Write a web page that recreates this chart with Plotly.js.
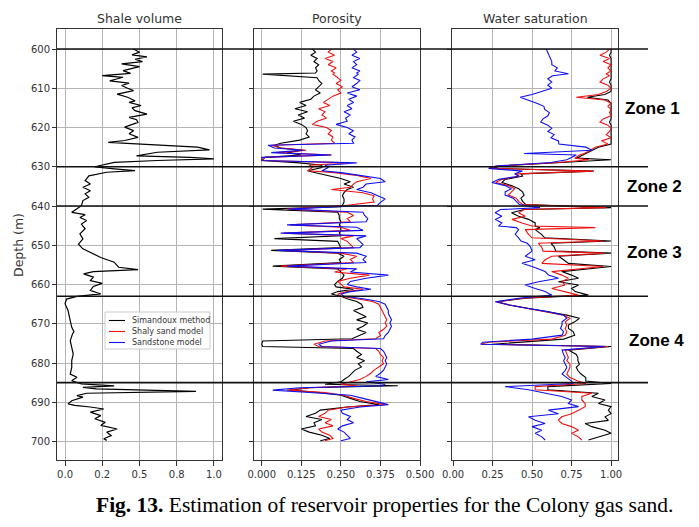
<!DOCTYPE html>
<html><head><meta charset="utf-8">
<script src="https://cdn.plot.ly/plotly-3.0.1.min.js"></script>
<style>html,body{margin:0;padding:0;background:#fff;}#chart{width:699px;height:527px;}</style>
</head><body><div id="chart"></div>
<script>
// ---------- DATA ----------
const shaleDepth = [600.0,600.8,601.5,602.0,602.6,603.2,603.8,604.5,605.5,606.2,606.8,607.2,607.7,608.1,608.7,609.3,610.0,610.6,611.5,612.3,613.2,613.6,614.4,615.0,615.7,616.2,616.6,617.4,618.0,618.7,619.3,619.9,620.8,621.6,622.5,623.3,623.8,624.2,625.0,625.7,626.3,627.2,627.6,628.0,628.4,628.9,630.0,630.6,631.0,631.4,632.3,633.5,634.4,635.2,636.1,636.9,637.8,638.6,639.9,640.7,641.6,642.2,642.9,643.7,644.6,645.8,647.1,648.4,649.7,650.9,651.8,653.1,654.3,655.6,656.2,656.7,657.3,658.1,659.0,659.7,660.5,661.5,662.4,663.0,663.7,664.9,666.6,668.0,669.2,670.9,672.0,672.6,674.3,676.0,677.7,679.4,681.1,682.8,683.6,684.5,685.3,685.8,686.2,686.6,687.2,687.7,688.3,688.7,689.6,690.4,690.8,691.2,691.7,692.5,693.4,694.2,695.1,695.9,696.8,697.6,698.5,699.3,699.7];
const shaleVolume = [0.46,0.50,0.45,0.55,0.47,0.52,0.38,0.50,0.39,0.44,0.25,0.39,0.34,0.30,0.43,0.38,0.42,0.46,0.35,0.42,0.47,0.43,0.51,0.45,0.47,0.52,0.55,0.43,0.48,0.49,0.44,0.40,0.46,0.43,0.49,0.40,0.29,0.51,0.89,0.97,0.62,0.48,0.84,1.0,0.62,0.33,0.20,0.35,0.47,0.28,0.16,0.135,0.17,0.12,0.17,0.135,0.16,0.12,0.11,0.08,0.045,0.135,0.10,0.145,0.11,0.135,0.10,0.12,0.09,0.12,0.17,0.24,0.33,0.36,0.49,0.19,0.125,0.19,0.17,0.25,0.19,0.17,0.24,0.08,0.01,0.0,0.02,0.03,0.035,0.045,0.06,0.05,0.035,0.045,0.055,0.045,0.045,0.035,0.08,0.045,0.11,0.33,0.12,0.21,0.88,0.145,0.08,0.12,0.045,0.02,0.065,0.17,0.26,0.17,0.24,0.20,0.27,0.24,0.35,0.28,0.31,0.26,0.28];

const phiDepth = [600.0,600.8,601.6,602.4,603.2,604.0,604.8,605.6,606.1,606.4,607.3,608.0,608.8,609.6,610.4,611.2,612.0,612.8,613.6,614.4,615.2,616.0,616.8,617.6,618.4,619.2,620.0,620.8,621.6,622.4,623.2,624.0,624.5,625.2,625.8,626.4,627.0,627.6,628.4,629.0,629.6,630.2,631.0,631.5,632.2,633.0,633.8,634.4,635.2,635.8,636.6,637.4,638.2,639.0,639.8,640.2,640.8,641.6,642.4,643.2,644.0,644.8,645.4,646.2,646.9,647.6,648.3,649.0,649.8,650.6,651.3,652.0,652.8,653.6,654.4,655.3,656.0,656.8,657.6,658.4,659.2,660.0,660.6,661.2,661.8,662.4,663.0,663.6,664.3,665.0,665.8,666.6,667.4,668.2,669.0,669.8,670.6,671.4,672.2,673.0,673.8,674.4,675.2,675.8,676.3,677.0,677.8,678.6,679.4,680.2,681.0,681.8,682.6,683.4,684.2,684.8,685.4,685.8,686.3,686.9,687.5,688.2,689.0,689.8,690.6,691.2,692.0,692.8,693.6,694.4,695.2,696.0,696.8,697.6,698.4,699.2,699.8];
const phiSimandoux = [.16,.17,.155,.175,.165,.18,.17,.175,.17,.003,.175,.18,.19,.18,.17,.185,.165,.155,.12,.14,.105,.145,.115,.135,.10,.125,.14,.145,.14,.15,.12,.06,.04,.06,.13,.08,.125,.01,.0,.12,.19,.19,.145,.17,.21,.25,.28,.26,.29,.27,.26,.255,.26,.26,.255,.25,.003,.24,.245,.245,.25,.245,.25,.25,.245,.25,.04,.24,.245,.25,.03,.24,.26,.245,.25,.035,.24,.25,.26,.255,.24,.23,.235,.29,.24,.22,.25,.27,.30,.315,.32,.29,.31,.33,.30,.335,.32,.30,.33,.31,.285,.003,.0,.003,.29,.30,.315,.30,.325,.305,.315,.295,.285,.275,.26,.25,.20,.43,.15,.09,.18,.25,.28,.31,.37,.27,.185,.17,.14,.19,.165,.17,.125,.15,.19,.215,.185];
const phiShalySand = [.22,.21,.23,.20,.225,.21,.235,.22,.23,.225,.24,.25,.235,.255,.24,.25,.225,.21,.195,.215,.18,.20,.19,.205,.175,.16,.205,.22,.21,.225,.22,.23,.03,.06,.14,.05,.22,.01,.0,.28,.15,.16,.145,.23,.30,.345,.30,.29,.28,.22,.32,.355,.35,.355,.27,.20,.08,.27,.29,.27,.28,.09,.25,.28,.07,.29,.25,.27,.28,.29,.07,.25,.30,.28,.29,.06,.27,.23,.34,.28,.24,.25,.26,.32,.27,.24,.25,.30,.35,.37,.375,.38,.385,.39,.395,.39,.395,.385,.37,.375,.36,.20,.165,.18,.36,.37,.375,.385,.38,.385,.37,.355,.345,.33,.31,.28,.25,.30,.15,.08,.20,.26,.29,.33,.39,.27,.21,.20,.18,.22,.20,.225,.18,.19,.215,.225,.20];
const phiSandstone = [.29,.30,.285,.31,.29,.30,.285,.31,.30,.305,.29,.31,.30,.285,.31,.27,.30,.275,.29,.27,.285,.26,.28,.265,.27,.235,.27,.29,.275,.295,.285,.29,.02,.04,.13,.03,.22,.0,.0,.30,.20,.21,.19,.25,.31,.375,.39,.33,.32,.30,.345,.366,.39,.376,.366,.24,.085,.32,.325,.335,.33,.08,.30,.32,.06,.33,.30,.31,.32,.31,.05,.30,.33,.32,.33,.08,.30,.28,.40,.33,.28,.27,.30,.345,.28,.25,.26,.32,.37,.39,.395,.40,.40,.405,.41,.405,.41,.405,.40,.39,.385,.22,.18,.19,.375,.385,.39,.395,.39,.395,.39,.385,.375,.36,.40,.33,.39,.38,.12,.035,.15,.28,.32,.36,.40,.31,.25,.255,.28,.27,.29,.255,.24,.26,.27,.28,.25];

const swDepth = [600.0,600.8,601.6,602.4,603.2,604.0,604.8,605.6,606.3,606.8,607.6,608.4,609.2,610.0,610.8,611.6,612.3,613.0,613.8,614.6,615.4,616.2,617.0,617.8,618.6,619.4,620.2,621.0,621.8,622.6,623.4,624.2,625.0,625.8,626.6,627.0,627.8,628.2,628.9,629.8,630.4,631.1,631.8,632.4,633.2,634.0,634.8,635.6,636.4,637.2,638.0,638.8,639.6,640.4,640.9,641.7,642.6,643.4,644.3,645.1,645.5,646.0,647.2,648.1,648.9,649.5,650.4,651.5,652.0,652.8,653.7,654.6,655.4,656.7,657.6,658.4,659.3,660.1,661.0,661.8,662.7,663.5,664.4,665.2,666.1,666.9,667.8,668.6,669.5,670.3,671.2,672.0,672.9,673.9,674.7,675.2,675.8,676.7,677.8,678.6,679.4,680.3,681.1,681.9,682.8,683.7,684.6,685.2,686.0,686.8,687.7,688.5,689.4,690.3,691.1,692.0,692.9,693.7,694.6,695.4,696.2,697.1,697.9,698.8,699.6];
const swSimandoux = [1.0,1.0,0.99,1.0,1.0,1.0,1.0,1.0,1.0,1.0,1.0,0.99,1.0,1.0,1.0,0.96,0.85,0.98,1.0,1.0,1.0,1.0,1.0,1.0,0.99,1.0,1.0,1.0,1.0,1.0,1.0,1.0,0.92,0.88,0.84,0.82,0.78,1.0,0.68,0.30,0.25,0.89,0.43,0.44,0.33,0.31,0.37,0.415,0.44,0.45,0.43,0.44,0.46,1.0,0.45,0.37,0.415,0.478,0.52,0.52,0.55,0.52,0.56,0.58,1.0,0.62,0.64,0.65,1.0,0.667,0.70,0.73,1.0,0.688,0.75,0.794,0.667,0.794,0.75,0.773,0.857,0.457,0.28,0.36,0.48,0.60,0.72,0.80,0.77,0.73,0.73,0.76,0.77,0.70,0.40,0.25,1.0,0.73,0.78,0.79,0.79,0.80,0.78,0.79,0.81,0.84,0.84,1.0,0.60,0.60,0.92,0.878,0.962,0.92,1.0,0.983,1.0,0.962,0.983,0.836,0.878,0.962,1.0,0.92,0.857];
const swShalySand = [0.99,0.97,0.93,0.99,0.95,1.0,0.98,1.0,0.97,0.99,0.95,0.93,0.98,1.0,0.97,0.92,0.78,0.96,1.0,0.98,1.0,0.99,1.0,0.95,0.93,0.98,1.0,0.99,0.97,1.0,0.94,0.98,0.90,0.87,0.83,0.80,0.77,0.86,0.66,0.28,0.24,0.89,0.40,0.42,0.31,0.27,0.35,0.39,0.37,0.35,0.40,0.415,0.44,0.97,0.45,0.415,0.457,0.373,0.436,0.50,0.90,0.457,0.478,0.50,0.95,0.54,0.56,0.57,0.96,0.625,0.583,0.562,0.95,0.625,0.688,0.73,0.688,0.709,0.625,0.709,0.794,0.436,0.275,0.355,0.48,0.60,0.70,0.74,0.71,0.72,0.71,0.72,0.71,0.625,0.22,0.18,0.98,0.71,0.72,0.73,0.72,0.74,0.74,0.73,0.72,0.74,0.79,0.84,0.52,0.52,0.878,0.815,0.815,0.836,0.836,0.794,0.75,0.688,0.667,0.688,0.75,0.794,0.75,0.794,0.815];
const swSandstone = [0.59,0.60,0.61,0.615,0.625,0.625,0.66,0.645,0.73,0.63,0.60,0.625,0.60,0.625,0.56,0.50,0.425,0.48,0.53,0.575,0.58,0.61,0.60,0.57,0.555,0.60,0.625,0.60,0.64,0.62,0.667,0.67,0.84,0.88,0.45,0.78,0.74,0.72,0.62,0.27,0.225,0.44,0.39,0.415,0.29,0.246,0.33,0.37,0.33,0.33,0.38,0.40,0.42,0.55,0.30,0.267,0.309,0.267,0.309,0.288,0.40,0.415,0.394,0.415,0.43,0.47,0.49,0.50,0.48,0.457,0.52,0.436,0.50,0.583,0.604,0.667,0.541,0.457,0.52,0.583,0.625,0.415,0.267,0.352,0.478,0.60,0.70,0.72,0.69,0.69,0.68,0.70,0.69,0.50,0.19,0.175,0.96,0.69,0.70,0.71,0.70,0.71,0.72,0.71,0.69,0.72,0.75,0.76,0.33,0.478,0.583,0.688,0.75,0.73,0.794,0.604,0.667,0.478,0.52,0.583,0.50,0.562,0.52,0.562,0.583];

const seriesNames = ['Simandoux method','Shaly sand model','Sandstone model'];
const panelTitles = ['Shale volume','Porosity','Water saturation'];
const zoneBoundaries = [600,630,640,663,685];
const zoneLabels = ['Zone 1','Zone 2','Zone 3','Zone 4'];
const zoneLabelPx = [[623,108],[625,186],[625,252],[627,340]];
const depthTicks = [600,610,620,630,640,650,660,670,680,690,700];
const vshTickVals = [0,0.25,0.5,0.75,1.0];
const vshTickText = ['0.0','0.2','0.5','0.8','1.0'];
const phiTickVals = [0,0.125,0.25,0.375,0.5];
const phiTickText = ['0.000','0.125','0.250','0.375','0.500'];
const swTickVals = [0,0.25,0.5,0.75,1.0];
const swTickText = ['0.00','0.25','0.50','0.75','1.00'];
const caption = '<b>Fig. 13.</b> Estimation of reservoir properties for the Colony gas sand.';

// ---------- LAYOUT ----------
const W = 699, H = 527;
const px = x => x / W, py = y => 1 - y / H;
const colors = ['#000000', '#ee1111', '#1010ee'];
const tickFont = {family: 'DejaVu Sans', size: 10, color: '#333'};

function xAx(dom, range, tv, tt, anchor) {
  return {domain: dom, range: range, tickvals: tv, ticktext: tt, anchor: anchor,
    showgrid: true, gridcolor: '#b4b4b4', gridwidth: 1, zeroline: false,
    showline: true, mirror: true, linecolor: '#333', linewidth: 1,
    ticks: 'outside', ticklen: 5, tickcolor: '#333', tickfont: tickFont, fixedrange: true};
}
function yAx(anchor, labels) {
  return {domain: [py(460), py(29)], range: [704.7, 594.9], tickvals: depthTicks, anchor: anchor,
    showticklabels: labels, showgrid: true, gridcolor: '#b4b4b4', gridwidth: 1, zeroline: false,
    showline: true, mirror: true, linecolor: '#333', linewidth: 1,
    ticks: 'outside', ticklen: 4, tickcolor: '#333', tickfont: tickFont, fixedrange: true};
}

const traces = [];
traces.push({x: shaleVolume, y: shaleDepth, xaxis: 'x', yaxis: 'y', mode: 'lines',
  line: {color: '#000', width: 1.2}, showlegend: false, name: 'Shale volume'});
const phiSeries = [phiSimandoux, phiShalySand, phiSandstone];
const swSeries = [swSimandoux, swShalySand, swSandstone];
phiSeries.forEach((s, i) => traces.push({x: s, y: phiDepth, xaxis: 'x2', yaxis: 'y2', mode: 'lines',
  line: {color: colors[i], width: 1.1}, name: seriesNames[i], showlegend: false}));
swSeries.forEach((s, i) => traces.push({x: s, y: swDepth, xaxis: 'x3', yaxis: 'y3', mode: 'lines',
  line: {color: colors[i], width: 1.1}, name: seriesNames[i], showlegend: false}));

const shapes = zoneBoundaries.map(d => ({type: 'line', xref: 'paper', yref: 'y', x0: px(57), x1: px(648),
  y0: d, y1: d, line: {color: '#111', width: 1.6}, layer: 'above'}));

const annotations = [];
const titleX = [139.5, 337, 535];
panelTitles.forEach((t, i) => annotations.push({text: t, xref: 'paper', yref: 'paper', x: px(titleX[i]), y: py(18),
  xanchor: 'center', yanchor: 'middle', showarrow: false, font: {family: 'DejaVu Sans', size: 12.5, color: '#333'}}));
zoneLabels.forEach((t, i) => annotations.push({text: '<b>' + t + '</b>', xref: 'paper', yref: 'paper',
  x: px(zoneLabelPx[i][0]), y: py(zoneLabelPx[i][1]), xanchor: 'left', yanchor: 'middle', showarrow: false,
  font: {family: 'Liberation Sans', size: 17, color: '#000'}}));
annotations.push({text: 'Depth (m)', xref: 'paper', yref: 'paper', x: px(19), y: py(245), textangle: -90,
  xanchor: 'center', yanchor: 'middle', showarrow: false, font: {family: 'DejaVu Sans', size: 12.5, color: '#333'}});
annotations.push({text: caption, xref: 'paper', yref: 'paper', x: px(385), y: py(505), xanchor: 'center', yanchor: 'middle',
  showarrow: false, font: {family: 'Liberation Serif', size: 21.5, color: '#000'}});

// legend drawn in the shale panel (compact, matplotlib style)
shapes.push({type: 'rect', xref: 'paper', yref: 'paper', x0: px(105), x1: px(210), y0: py(349), y1: py(312),
  line: {color: '#cccccc', width: 1}, fillcolor: 'rgba(255,255,255,0.85)', layer: 'above'});
const legendRowY = [320.5, 331.5, 342.5];
seriesNames.forEach((n, i) => {
  shapes.push({type: 'line', xref: 'paper', yref: 'paper', x0: px(109), x1: px(125), y0: py(legendRowY[i]), y1: py(legendRowY[i]),
    line: {color: colors[i], width: 1.1}, layer: 'above'});
  annotations.push({text: n, xref: 'paper', yref: 'paper', x: px(130), y: py(legendRowY[i]), xanchor: 'left', yanchor: 'middle',
    showarrow: false, font: {family: 'DejaVu Sans', size: 8, color: '#333'}});
});

const layout = {
  width: W, height: H, margin: {l: 0, r: 0, t: 0, b: 0},
  paper_bgcolor: '#fff', plot_bgcolor: '#fff', showlegend: false,
  xaxis: xAx([px(57), px(222)], [-0.054, 1.054], vshTickVals, vshTickText, 'y'),
  yaxis: yAx('x', true),
  xaxis2: xAx([px(254.3), px(420)], [-0.0234, 0.5], phiTickVals, phiTickText, 'y2'),
  yaxis2: yAx('x2', false),
  xaxis3: xAx([px(452.3), px(617.7)], [-0.0044, 1.042], swTickVals, swTickText, 'y3'),
  yaxis3: yAx('x3', false),
  shapes: shapes, annotations: annotations
};
Plotly.newPlot('chart', traces, layout, {displayModeBar: false, staticPlot: true});
</script></body></html>
